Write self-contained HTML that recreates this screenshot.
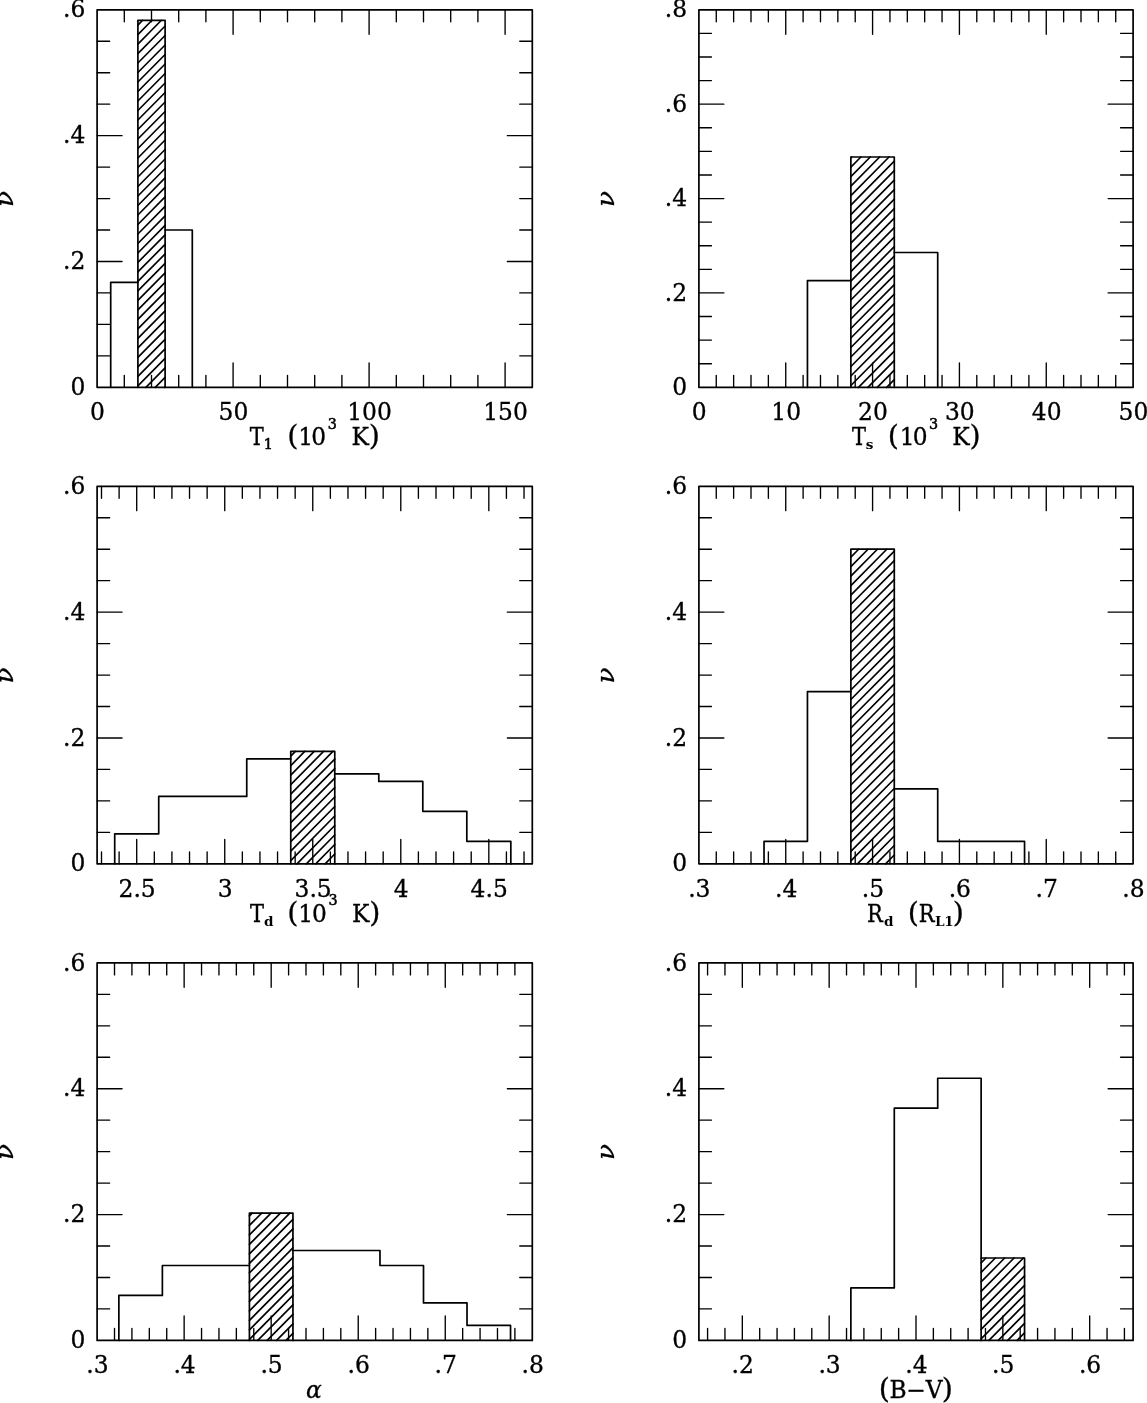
<!DOCTYPE html>
<html lang="en"><head><meta charset="utf-8"><title>Histograms</title>
<style>
html,body{margin:0;padding:0;background:#fff}
body{width:1147px;height:1403px;overflow:hidden}
svg{display:block}
text{font-family:"DejaVu Serif","Liberation Serif",serif;font-size:23.4px;fill:#000;stroke:#000;stroke-width:.32px}
.l{font-size:23.3px}
.s{font-size:13.6px;font-weight:bold;stroke-width:0}
.n{font-size:14.3px;stroke-width:.55px}
.nu{font-style:italic;font-size:25.8px}
.p{font-size:28.6px}
.c{font-family:"DejaVu Serif Condensed","DejaVu Serif","Liberation Serif",serif}
.g{font-style:italic}
.t{fill:none;stroke:#000;stroke-width:1.35;stroke-linecap:round}
.f{fill:none;stroke:#000;stroke-width:1.7;stroke-linejoin:round}
.b{fill:none;stroke:#000;stroke-width:1.7;stroke-linejoin:round;stroke-linecap:round}
.h{fill:none;stroke:#000;stroke-width:1.65;stroke-linecap:round}
</style></head><body>
<svg width="1147" height="1403" viewBox="0 0 1147 1403">
<rect width="1147" height="1403" fill="#fff"/>
<g>
<path class="t" d="M124.3 387.3v-12M124.3 9.8v12M151.5 387.3v-12M151.5 9.8v12M178.7 387.3v-12M178.7 9.8v12M205.9 387.3v-12M205.9 9.8v12M233.1 387.3v-24.4M233.1 9.8v24.4M260.3 387.3v-12M260.3 9.8v12M287.5 387.3v-12M287.5 9.8v12M314.7 387.3v-12M314.7 9.8v12M341.9 387.3v-12M341.9 9.8v12M369.1 387.3v-24.4M369.1 9.8v24.4M396.3 387.3v-12M396.3 9.8v12M423.5 387.3v-12M423.5 9.8v12M450.7 387.3v-12M450.7 9.8v12M477.9 387.3v-12M477.9 9.8v12M505.1 387.3v-24.4M505.1 9.8v24.4M97.1 355.84h12.55M532.3 355.84h-12.55M97.1 324.38h12.55M532.3 324.38h-12.55M97.1 292.93h12.55M532.3 292.93h-12.55M97.1 261.47h24.95M532.3 261.47h-24.95M97.1 230.01h12.55M532.3 230.01h-12.55M97.1 198.55h12.55M532.3 198.55h-12.55M97.1 167.09h12.55M532.3 167.09h-12.55M97.1 135.63h24.95M532.3 135.63h-24.95M97.1 104.18h12.55M532.3 104.18h-12.55M97.1 72.72h12.55M532.3 72.72h-12.55M97.1 41.26h12.55M532.3 41.26h-12.55"/>
<path class="h" d="M137.9 25.06L142.62 20.29M137.9 34.55L152 20.29M137.9 44.05L161.38 20.29M137.9 53.55L165.1 26.02M137.9 63.04L165.1 35.51M137.9 72.54L165.1 45.01M137.9 82.03L165.1 54.51M137.9 91.53L165.1 64M137.9 101.02L165.1 73.5M137.9 110.52L165.1 82.99M137.9 120.02L165.1 92.49M137.9 129.51L165.1 101.99M137.9 139.01L165.1 111.48M137.9 148.5L165.1 120.98M137.9 158L165.1 130.47M137.9 167.49L165.1 139.97M137.9 176.99L165.1 149.46M137.9 186.49L165.1 158.96M137.9 195.98L165.1 168.46M137.9 205.48L165.1 177.95M137.9 214.97L165.1 187.45M137.9 224.47L165.1 196.94M137.9 233.97L165.1 206.44M137.9 243.46L165.1 215.93M137.9 252.96L165.1 225.43M137.9 262.45L165.1 234.93M137.9 271.95L165.1 244.42M137.9 281.44L165.1 253.92M137.9 290.94L165.1 263.41M137.9 300.44L165.1 272.91M137.9 309.93L165.1 282.41M137.9 319.43L165.1 291.9M137.9 328.92L165.1 301.4M137.9 338.42L165.1 310.89M137.9 347.91L165.1 320.39M137.9 357.41L165.1 329.88M137.9 366.91L165.1 339.38M137.9 376.4L165.1 348.88M137.9 385.9L165.1 358.37M145.9 387.3L165.1 367.87M155.28 387.3L165.1 377.36M164.66 387.3L165.1 386.86"/>
<path class="b" d="M110.7 387.3V282.44H137.9V20.29H165.1V230.01H192.3V387.3"/>
<path class="b" d="M137.9 387.3V282.44M165.1 387.3V230.01"/>
<rect class="f" x="97.1" y="9.8" width="435.2" height="377.5"/>
<text x="97.5" y="420.25" text-anchor="middle">0</text>
<text x="233.5" y="420.25" text-anchor="middle">50</text>
<text x="369.5" y="420.25" text-anchor="middle">100</text>
<text x="505.5" y="420.25" text-anchor="middle">150</text>
<text x="85.3" y="394.95" text-anchor="end">0</text>
<text x="85.3" y="269.12" text-anchor="end">.2</text>
<text x="85.3" y="143.28" text-anchor="end">.4</text>
<text x="85.3" y="17.45" text-anchor="end">.6</text>
<text class="nu" transform="translate(12.6 206.95) rotate(-90) scale(1.02 .91)">ν</text>
<text><tspan class="l c" x="249.69" y="445">T</tspan><tspan class="n" x="263.77" y="449">1</tspan><tspan class="p" x="287.24" y="445">(</tspan><tspan class="l" x="298.36" y="445">1</tspan><tspan class="l" x="311.26" y="445">0</tspan><tspan class="n" x="327.82" y="428.8">3</tspan><tspan class="l" x="351.42" y="445">K</tspan><tspan class="p" x="368.77" y="445">)</tspan></text>
</g>
<g>
<path class="t" d="M716.27 387.3v-12M716.27 9.8v12M733.64 387.3v-12M733.64 9.8v12M751 387.3v-12M751 9.8v12M768.37 387.3v-12M768.37 9.8v12M785.74 387.3v-24.4M785.74 9.8v24.4M803.11 387.3v-12M803.11 9.8v12M820.48 387.3v-12M820.48 9.8v12M837.84 387.3v-12M837.84 9.8v12M855.21 387.3v-12M855.21 9.8v12M872.58 387.3v-24.4M872.58 9.8v24.4M889.95 387.3v-12M889.95 9.8v12M907.32 387.3v-12M907.32 9.8v12M924.68 387.3v-12M924.68 9.8v12M942.05 387.3v-12M942.05 9.8v12M959.42 387.3v-24.4M959.42 9.8v24.4M976.79 387.3v-12M976.79 9.8v12M994.16 387.3v-12M994.16 9.8v12M1011.52 387.3v-12M1011.52 9.8v12M1028.89 387.3v-12M1028.89 9.8v12M1046.26 387.3v-24.4M1046.26 9.8v24.4M1063.63 387.3v-12M1063.63 9.8v12M1081 387.3v-12M1081 9.8v12M1098.36 387.3v-12M1098.36 9.8v12M1115.73 387.3v-12M1115.73 9.8v12M698.9 363.71h12.55M1133.1 363.71h-12.55M698.9 340.11h12.55M1133.1 340.11h-12.55M698.9 316.52h12.55M1133.1 316.52h-12.55M698.9 292.93h24.95M1133.1 292.93h-24.95M698.9 269.33h12.55M1133.1 269.33h-12.55M698.9 245.74h12.55M1133.1 245.74h-12.55M698.9 222.14h12.55M1133.1 222.14h-12.55M698.9 198.55h24.95M1133.1 198.55h-24.95M698.9 174.96h12.55M1133.1 174.96h-12.55M698.9 151.36h12.55M1133.1 151.36h-12.55M698.9 127.77h12.55M1133.1 127.77h-12.55M698.9 104.17h24.95M1133.1 104.17h-24.95M698.9 80.58h12.55M1133.1 80.58h-12.55M698.9 56.99h12.55M1133.1 56.99h-12.55M698.9 33.39h12.55M1133.1 33.39h-12.55"/>
<path class="h" d="M850.87 157.6L851.49 156.98M850.87 167.1L860.87 156.98M850.87 176.6L870.25 156.98M850.87 186.09L879.64 156.98M850.87 195.59L889.02 156.98M850.87 205.08L894.29 161.14M850.87 214.58L894.29 170.64M850.87 224.08L894.29 180.13M850.87 233.57L894.29 189.63M850.87 243.07L894.29 199.13M850.87 252.56L894.29 208.62M850.87 262.06L894.29 218.12M850.87 271.55L894.29 227.61M850.87 281.05L894.29 237.11M850.87 290.55L894.29 246.6M850.87 300.04L894.29 256.1M850.87 309.54L894.29 265.6M850.87 319.03L894.29 275.09M850.87 328.53L894.29 284.59M850.87 338.02L894.29 294.08M850.87 347.52L894.29 303.58M850.87 357.02L894.29 313.08M850.87 366.51L894.29 322.57M850.87 376.01L894.29 332.07M850.87 385.5L894.29 341.56M858.48 387.3L894.29 351.06M867.86 387.3L894.29 360.55M877.24 387.3L894.29 370.05M886.63 387.3L894.29 379.55"/>
<path class="b" d="M807.45 387.3V280.57H850.87V156.98H894.29V252.48H937.71V387.3"/>
<path class="b" d="M850.87 387.3V280.57M894.29 387.3V252.48"/>
<rect class="f" x="698.9" y="9.8" width="434.2" height="377.5"/>
<text x="699.3" y="420.25" text-anchor="middle">0</text>
<text x="786.14" y="420.25" text-anchor="middle">10</text>
<text x="872.98" y="420.25" text-anchor="middle">20</text>
<text x="959.82" y="420.25" text-anchor="middle">30</text>
<text x="1046.66" y="420.25" text-anchor="middle">40</text>
<text x="1133.5" y="420.25" text-anchor="middle">50</text>
<text x="687.1" y="394.95" text-anchor="end">0</text>
<text x="687.1" y="300.57" text-anchor="end">.2</text>
<text x="687.1" y="206.2" text-anchor="end">.4</text>
<text x="687.1" y="111.82" text-anchor="end">.6</text>
<text x="687.1" y="17.45" text-anchor="end">.8</text>
<text class="nu" transform="translate(614.4 206.95) rotate(-90) scale(1.02 .91)">ν</text>
<text><tspan class="l c" x="851.99" y="445">T</tspan><tspan class="s" x="865.8" y="449">s</tspan><tspan class="p" x="887.84" y="445">(</tspan><tspan class="l" x="899.66" y="445">1</tspan><tspan class="l" x="912.76" y="445">0</tspan><tspan class="n" x="928.92" y="428.8">3</tspan><tspan class="l" x="952.22" y="445">K</tspan><tspan class="p" x="969.57" y="445">)</tspan></text>
</g>
<g>
<path class="t" d="M101.5 863.8v-12M101.5 486.3v12M119.11 863.8v-12M119.11 486.3v12M136.71 863.8v-24.4M136.71 486.3v24.4M154.32 863.8v-12M154.32 486.3v12M171.92 863.8v-12M171.92 486.3v12M189.53 863.8v-12M189.53 486.3v12M207.13 863.8v-12M207.13 486.3v12M224.74 863.8v-24.4M224.74 486.3v24.4M242.34 863.8v-12M242.34 486.3v12M259.95 863.8v-12M259.95 486.3v12M277.55 863.8v-12M277.55 486.3v12M295.16 863.8v-12M295.16 486.3v12M312.76 863.8v-24.4M312.76 486.3v24.4M330.37 863.8v-12M330.37 486.3v12M347.97 863.8v-12M347.97 486.3v12M365.58 863.8v-12M365.58 486.3v12M383.18 863.8v-12M383.18 486.3v12M400.79 863.8v-24.4M400.79 486.3v24.4M418.39 863.8v-12M418.39 486.3v12M436 863.8v-12M436 486.3v12M453.6 863.8v-12M453.6 486.3v12M471.21 863.8v-12M471.21 486.3v12M488.82 863.8v-24.4M488.82 486.3v24.4M506.42 863.8v-12M506.42 486.3v12M524.03 863.8v-12M524.03 486.3v12M97.1 832.34h12.55M532.3 832.34h-12.55M97.1 800.88h12.55M532.3 800.88h-12.55M97.1 769.42h12.55M532.3 769.42h-12.55M97.1 737.97h24.95M532.3 737.97h-24.95M97.1 706.51h12.55M532.3 706.51h-12.55M97.1 675.05h12.55M532.3 675.05h-12.55M97.1 643.59h12.55M532.3 643.59h-12.55M97.1 612.13h24.95M532.3 612.13h-24.95M97.1 580.67h12.55M532.3 580.67h-12.55M97.1 549.22h12.55M532.3 549.22h-12.55M97.1 517.76h12.55M532.3 517.76h-12.55"/>
<path class="h" d="M290.76 756.12L295.37 751.45M290.76 765.61L304.75 751.45M290.76 775.11L314.14 751.45M290.76 784.61L323.52 751.45M290.76 794.1L332.9 751.45M290.76 803.6L334.77 759.06M290.76 813.09L334.77 768.55M290.76 822.59L334.77 778.05M290.76 832.09L334.77 787.54M290.76 841.58L334.77 797.04M290.76 851.08L334.77 806.54M290.76 860.57L334.77 816.03M296.95 863.8L334.77 825.53M306.33 863.8L334.77 835.02M315.72 863.8L334.77 844.52M325.1 863.8L334.77 854.01"/>
<path class="b" d="M114.71 863.8V833.84H158.72V796.39H246.74V758.94H290.76V751.45H334.77V773.92H378.78V781.41H422.8V811.37H466.81V841.33H510.82V863.8"/>
<path class="b" d="M290.76 863.8V758.94M334.77 863.8V773.92"/>
<rect class="f" x="97.1" y="486.3" width="435.2" height="377.5"/>
<text x="137.11" y="896.75" text-anchor="middle">2.5</text>
<text x="225.14" y="896.75" text-anchor="middle">3</text>
<text x="313.16" y="896.75" text-anchor="middle">3.5</text>
<text x="401.19" y="896.75" text-anchor="middle">4</text>
<text x="489.22" y="896.75" text-anchor="middle">4.5</text>
<text x="85.3" y="871.45" text-anchor="end">0</text>
<text x="85.3" y="745.62" text-anchor="end">.2</text>
<text x="85.3" y="619.78" text-anchor="end">.4</text>
<text x="85.3" y="493.95" text-anchor="end">.6</text>
<text class="nu" transform="translate(12.6 683.45) rotate(-90) scale(1.02 .91)">ν</text>
<text><tspan class="l c" x="249.99" y="921.5">T</tspan><tspan class="s" x="263.89" y="925.5">d</tspan><tspan class="p" x="287.24" y="921.5">(</tspan><tspan class="l" x="298.36" y="921.5">1</tspan><tspan class="l" x="311.96" y="921.5">0</tspan><tspan class="n" x="328.52" y="905.3">3</tspan><tspan class="l" x="352.02" y="921.5">K</tspan><tspan class="p" x="369.17" y="921.5">)</tspan></text>
</g>
<g>
<path class="t" d="M716.27 863.8v-12M716.27 486.3v12M733.64 863.8v-12M733.64 486.3v12M751 863.8v-12M751 486.3v12M768.37 863.8v-12M768.37 486.3v12M785.74 863.8v-24.4M785.74 486.3v24.4M803.11 863.8v-12M803.11 486.3v12M820.48 863.8v-12M820.48 486.3v12M837.84 863.8v-12M837.84 486.3v12M855.21 863.8v-12M855.21 486.3v12M872.58 863.8v-24.4M872.58 486.3v24.4M889.95 863.8v-12M889.95 486.3v12M907.32 863.8v-12M907.32 486.3v12M924.68 863.8v-12M924.68 486.3v12M942.05 863.8v-12M942.05 486.3v12M959.42 863.8v-24.4M959.42 486.3v24.4M976.79 863.8v-12M976.79 486.3v12M994.16 863.8v-12M994.16 486.3v12M1011.52 863.8v-12M1011.52 486.3v12M1028.89 863.8v-12M1028.89 486.3v12M1046.26 863.8v-24.4M1046.26 486.3v24.4M1063.63 863.8v-12M1063.63 486.3v12M1081 863.8v-12M1081 486.3v12M1098.36 863.8v-12M1098.36 486.3v12M1115.73 863.8v-12M1115.73 486.3v12M698.9 832.34h12.55M1133.1 832.34h-12.55M698.9 800.88h12.55M1133.1 800.88h-12.55M698.9 769.42h12.55M1133.1 769.42h-12.55M698.9 737.97h24.95M1133.1 737.97h-24.95M698.9 706.51h12.55M1133.1 706.51h-12.55M698.9 675.05h12.55M1133.1 675.05h-12.55M698.9 643.59h12.55M1133.1 643.59h-12.55M698.9 612.13h24.95M1133.1 612.13h-24.95M698.9 580.67h12.55M1133.1 580.67h-12.55M698.9 549.22h12.55M1133.1 549.22h-12.55M698.9 517.76h12.55M1133.1 517.76h-12.55"/>
<path class="h" d="M850.87 557.06L858.62 549.22M850.87 566.56L868.01 549.22M850.87 576.06L877.39 549.22M850.87 585.55L886.77 549.22M850.87 595.05L894.29 551.11M850.87 604.54L894.29 560.6M850.87 614.04L894.29 570.1M850.87 623.54L894.29 579.59M850.87 633.03L894.29 589.09M850.87 642.53L894.29 598.59M850.87 652.02L894.29 608.08M850.87 661.52L894.29 617.58M850.87 671.01L894.29 627.07M850.87 680.51L894.29 636.57M850.87 690.01L894.29 646.06M850.87 699.5L894.29 655.56M850.87 709L894.29 665.06M850.87 718.49L894.29 674.55M850.87 727.99L894.29 684.05M850.87 737.48L894.29 693.54M850.87 746.98L894.29 703.04M850.87 756.48L894.29 712.54M850.87 765.97L894.29 722.03M850.87 775.47L894.29 731.53M850.87 784.96L894.29 741.02M850.87 794.46L894.29 750.52M850.87 803.96L894.29 760.01M850.87 813.45L894.29 769.51M850.87 822.95L894.29 779.01M850.87 832.44L894.29 788.5M850.87 841.94L894.29 798M850.87 851.43L894.29 807.49M850.87 860.93L894.29 816.99M857.42 863.8L894.29 826.48M866.8 863.8L894.29 835.98M876.18 863.8L894.29 845.48M885.57 863.8L894.29 854.97"/>
<path class="b" d="M764.03 863.8V841.33H807.45V691.53H850.87V549.22H894.29V788.9H937.71V841.33H1024.55V863.8"/>
<path class="b" d="M850.87 863.8V691.53M894.29 863.8V788.9"/>
<rect class="f" x="698.9" y="486.3" width="434.2" height="377.5"/>
<text x="699.3" y="896.75" text-anchor="middle">.3</text>
<text x="786.14" y="896.75" text-anchor="middle">.4</text>
<text x="872.98" y="896.75" text-anchor="middle">.5</text>
<text x="959.82" y="896.75" text-anchor="middle">.6</text>
<text x="1046.66" y="896.75" text-anchor="middle">.7</text>
<text x="1133.5" y="896.75" text-anchor="middle">.8</text>
<text x="687.1" y="871.45" text-anchor="end">0</text>
<text x="687.1" y="745.62" text-anchor="end">.2</text>
<text x="687.1" y="619.78" text-anchor="end">.4</text>
<text x="687.1" y="493.95" text-anchor="end">.6</text>
<text class="nu" transform="translate(614.4 683.45) rotate(-90) scale(1.02 .91)">ν</text>
<text><tspan class="l c" x="866.95" y="921.5">R</tspan><tspan class="s" x="884.09" y="925.5">d</tspan><tspan class="p" x="907.64" y="921.5">(</tspan><tspan class="l c" x="918.75" y="921.5">R</tspan><tspan class="s" x="935.02" y="925.5">L</tspan><tspan class="s" x="944.27" y="925.5">1</tspan><tspan class="p" x="952.87" y="921.5">)</tspan></text>
</g>
<g>
<path class="t" d="M114.51 1340.4v-12M114.51 962.9v12M131.92 1340.4v-12M131.92 962.9v12M149.32 1340.4v-12M149.32 962.9v12M166.73 1340.4v-12M166.73 962.9v12M184.14 1340.4v-24.4M184.14 962.9v24.4M201.55 1340.4v-12M201.55 962.9v12M218.96 1340.4v-12M218.96 962.9v12M236.36 1340.4v-12M236.36 962.9v12M253.77 1340.4v-12M253.77 962.9v12M271.18 1340.4v-24.4M271.18 962.9v24.4M288.59 1340.4v-12M288.59 962.9v12M306 1340.4v-12M306 962.9v12M323.4 1340.4v-12M323.4 962.9v12M340.81 1340.4v-12M340.81 962.9v12M358.22 1340.4v-24.4M358.22 962.9v24.4M375.63 1340.4v-12M375.63 962.9v12M393.04 1340.4v-12M393.04 962.9v12M410.44 1340.4v-12M410.44 962.9v12M427.85 1340.4v-12M427.85 962.9v12M445.26 1340.4v-24.4M445.26 962.9v24.4M462.67 1340.4v-12M462.67 962.9v12M480.08 1340.4v-12M480.08 962.9v12M497.48 1340.4v-12M497.48 962.9v12M514.89 1340.4v-12M514.89 962.9v12M97.1 1308.94h12.55M532.3 1308.94h-12.55M97.1 1277.48h12.55M532.3 1277.48h-12.55M97.1 1246.03h12.55M532.3 1246.03h-12.55M97.1 1214.57h24.95M532.3 1214.57h-24.95M97.1 1183.11h12.55M532.3 1183.11h-12.55M97.1 1151.65h12.55M532.3 1151.65h-12.55M97.1 1120.19h12.55M532.3 1120.19h-12.55M97.1 1088.73h24.95M532.3 1088.73h-24.95M97.1 1057.28h12.55M532.3 1057.28h-12.55M97.1 1025.82h12.55M532.3 1025.82h-12.55M97.1 994.36h12.55M532.3 994.36h-12.55"/>
<path class="h" d="M249.42 1215.94L252.26 1213.07M249.42 1225.44L261.64 1213.07M249.42 1234.93L271.03 1213.07M249.42 1244.43L280.41 1213.07M249.42 1253.92L289.79 1213.07M249.42 1263.42L292.94 1219.38M249.42 1272.92L292.94 1228.87M249.42 1282.41L292.94 1238.37M249.42 1291.91L292.94 1247.87M249.42 1301.4L292.94 1257.36M249.42 1310.9L292.94 1266.86M249.42 1320.4L292.94 1276.35M249.42 1329.89L292.94 1285.85M249.42 1339.39L292.94 1295.34M257.8 1340.4L292.94 1304.84M267.19 1340.4L292.94 1314.34M276.57 1340.4L292.94 1323.83M285.95 1340.4L292.94 1333.33"/>
<path class="b" d="M118.86 1340.4V1295.46H162.38V1265.5H249.42V1213.07H292.94V1250.52H379.98V1265.5H423.5V1302.95H467.02V1325.42H510.54V1340.4"/>
<path class="b" d="M249.42 1340.4V1265.5M292.94 1340.4V1250.52"/>
<rect class="f" x="97.1" y="962.9" width="435.2" height="377.5"/>
<text x="97.5" y="1373.35" text-anchor="middle">.3</text>
<text x="184.54" y="1373.35" text-anchor="middle">.4</text>
<text x="271.58" y="1373.35" text-anchor="middle">.5</text>
<text x="358.62" y="1373.35" text-anchor="middle">.6</text>
<text x="445.66" y="1373.35" text-anchor="middle">.7</text>
<text x="532.7" y="1373.35" text-anchor="middle">.8</text>
<text x="85.3" y="1348.05" text-anchor="end">0</text>
<text x="85.3" y="1222.22" text-anchor="end">.2</text>
<text x="85.3" y="1096.38" text-anchor="end">.4</text>
<text x="85.3" y="970.55" text-anchor="end">.6</text>
<text class="nu" transform="translate(12.6 1160.05) rotate(-90) scale(1.02 .91)">ν</text>
<text><tspan class="l g" x="306.12" y="1398.1">α</tspan></text>
</g>
<g>
<path class="t" d="M707.58 1340.4v-12M707.58 962.9v12M724.95 1340.4v-12M724.95 962.9v12M742.32 1340.4v-24.4M742.32 962.9v24.4M759.69 1340.4v-12M759.69 962.9v12M777.06 1340.4v-12M777.06 962.9v12M794.42 1340.4v-12M794.42 962.9v12M811.79 1340.4v-12M811.79 962.9v12M829.16 1340.4v-24.4M829.16 962.9v24.4M846.53 1340.4v-12M846.53 962.9v12M863.9 1340.4v-12M863.9 962.9v12M881.26 1340.4v-12M881.26 962.9v12M898.63 1340.4v-12M898.63 962.9v12M916 1340.4v-24.4M916 962.9v24.4M933.37 1340.4v-12M933.37 962.9v12M950.74 1340.4v-12M950.74 962.9v12M968.1 1340.4v-12M968.1 962.9v12M985.47 1340.4v-12M985.47 962.9v12M1002.84 1340.4v-24.4M1002.84 962.9v24.4M1020.21 1340.4v-12M1020.21 962.9v12M1037.58 1340.4v-12M1037.58 962.9v12M1054.94 1340.4v-12M1054.94 962.9v12M1072.31 1340.4v-12M1072.31 962.9v12M1089.68 1340.4v-24.4M1089.68 962.9v24.4M1107.05 1340.4v-12M1107.05 962.9v12M1124.42 1340.4v-12M1124.42 962.9v12M698.9 1308.94h12.55M1133.1 1308.94h-12.55M698.9 1277.48h12.55M1133.1 1277.48h-12.55M698.9 1246.03h12.55M1133.1 1246.03h-12.55M698.9 1214.57h24.95M1133.1 1214.57h-24.95M698.9 1183.11h12.55M1133.1 1183.11h-12.55M698.9 1151.65h12.55M1133.1 1151.65h-12.55M698.9 1120.19h12.55M1133.1 1120.19h-12.55M698.9 1088.73h24.95M1133.1 1088.73h-24.95M698.9 1057.28h12.55M1133.1 1057.28h-12.55M698.9 1025.82h12.55M1133.1 1025.82h-12.55M698.9 994.36h12.55M1133.1 994.36h-12.55"/>
<path class="h" d="M981.13 1262.85L985.91 1258.01M981.13 1272.34L995.29 1258.01M981.13 1281.84L1004.68 1258.01M981.13 1291.33L1014.06 1258.01M981.13 1300.83L1023.44 1258.01M981.13 1310.33L1024.55 1266.39M981.13 1319.82L1024.55 1275.88M981.13 1329.32L1024.55 1285.38M981.13 1338.81L1024.55 1294.87M988.95 1340.4L1024.55 1304.37M998.33 1340.4L1024.55 1313.86M1007.71 1340.4L1024.55 1323.36M1017.1 1340.4L1024.55 1332.86"/>
<path class="b" d="M850.87 1340.4V1287.97H894.29V1108.21H937.71V1078.25H981.13V1258.01H1024.55V1340.4"/>
<path class="b" d="M981.13 1340.4V1258.01"/>
<rect class="f" x="698.9" y="962.9" width="434.2" height="377.5"/>
<text x="742.72" y="1373.35" text-anchor="middle">.2</text>
<text x="829.56" y="1373.35" text-anchor="middle">.3</text>
<text x="916.4" y="1373.35" text-anchor="middle">.4</text>
<text x="1003.24" y="1373.35" text-anchor="middle">.5</text>
<text x="1090.08" y="1373.35" text-anchor="middle">.6</text>
<text x="687.1" y="1348.05" text-anchor="end">0</text>
<text x="687.1" y="1222.22" text-anchor="end">.2</text>
<text x="687.1" y="1096.38" text-anchor="end">.4</text>
<text x="687.1" y="970.55" text-anchor="end">.6</text>
<text class="nu" transform="translate(614.4 1160.05) rotate(-90) scale(1.02 .91)">ν</text>
<text><tspan class="p" x="878.64" y="1398.1">(</tspan><tspan class="l" x="889.62" y="1398.1">B</tspan><tspan class="l" x="906.23" y="1398.1">−</tspan><tspan class="l" x="925.63" y="1398.1">V</tspan><tspan class="p" x="941.67" y="1398.1">)</tspan></text>
</g>
</svg>
</body></html>
